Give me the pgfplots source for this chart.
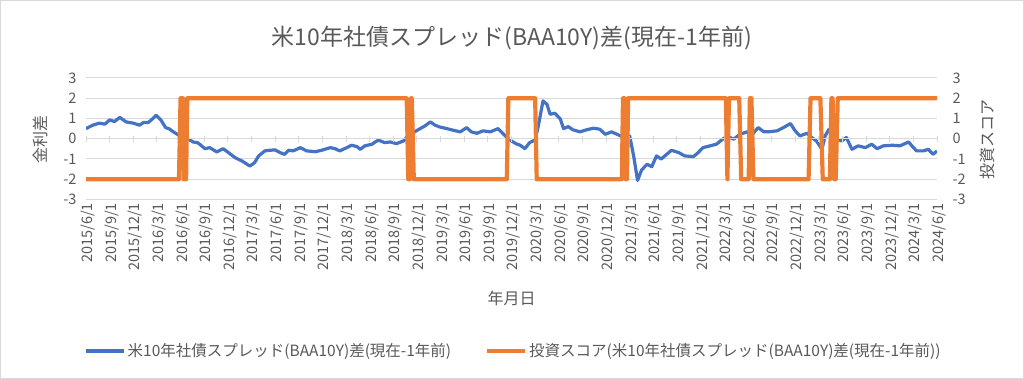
\documentclass[border=0pt]{standalone}
\usepackage{pgfplots}
\pgfplotsset{compat=1.18}
\usepackage{fontspec}
\setmainfont{Noto Sans CJK JP}
\definecolor{txt}{HTML}{595959}
\definecolor{grd}{HTML}{D9D9D9}
\definecolor{cblue}{HTML}{4472C4}
\definecolor{corange}{HTML}{ED7D31}
\begin{document}
\begin{tikzpicture}
\useasboundingbox (0pt,0pt) rectangle (1024pt,379pt);
\draw[color=grd] (0.5pt,0.5pt) rectangle (1023.5pt,378.5pt);
\node[text=txt, font=\fontsize{23}{27}\selectfont] at (512pt,341pt) {米10年社債スプレッド(BAA10Y)差(現在-1年前)};
\pgfplotsset{
  base/.style={
    at={(86pt,179.5pt)}, anchor=south west, scale only axis,
    width=851pt, height=121.5pt,
    xmin=0, xmax=108, ymin=-3, ymax=3,
    ytick={-3,-2,-1,0,1,2,3},
    /pgf/number format/assume math mode=true,
    tick label style={text=txt, font=\fontsize{14.5}{16}\selectfont},
    label style={text=txt, font=\fontsize{16}{18}\selectfont},
    major tick length=0pt,
  }
}
% left axis with blue series
\begin{axis}[base,
  axis y line*=left, axis x line*=bottom,
  axis line style={draw=none},
  ymajorgrids, grid style={grd, line width=1pt},
  xtick={0,3,...,108},
  xticklabels={2015/6/1,2015/9/1,2015/12/1,2016/3/1,2016/6/1,2016/9/1,2016/12/1,2017/3/1,2017/6/1,2017/9/1,2017/12/1,2018/3/1,2018/6/1,2018/9/1,2018/12/1,2019/3/1,2019/6/1,2019/9/1,2019/12/1,2020/3/1,2020/6/1,2020/9/1,2020/12/1,2021/3/1,2021/6/1,2021/9/1,2021/12/1,2022/3/1,2022/6/1,2022/9/1,2022/12/1,2023/3/1,2023/6/1,2023/9/1,2023/12/1,2024/3/1,2024/6/1},
  xticklabel style={rotate=90, anchor=east, yshift=-2pt},
  yticklabel style={xshift=-6pt},
  xlabel={年月日},
  xlabel style={at={(axis description cs:0.5,-0.81)}, anchor=center},
  ylabel={金利差},
  ylabel style={at={(axis description cs:-0.054,0.49)}, anchor=center},
]
\addplot[cblue, line width=3.2pt, line join=round] coordinates {
(0,0.50) (0.85,0.67) (1.7,0.77) (2.4,0.72) (3.0,0.93) (3.6,0.85) (4.3,1.05) (5.1,0.83) (6.0,0.77) (6.8,0.67) (7.3,0.80) (7.9,0.80) (8.4,0.97) (8.9,1.16) (9.5,0.93) (10.1,0.55) (10.5,0.50) (11.1,0.34) (11.7,0.19) (12.3,0.09) (13.0,-0.02) (13.6,-0.16) (14.2,-0.20) (15.1,-0.49) (15.7,-0.44) (16.6,-0.65) (17.4,-0.49) (18.2,-0.72) (18.9,-0.93) (19.8,-1.10) (20.8,-1.35) (21.4,-1.18) (21.9,-0.85) (22.7,-0.60) (23.3,-0.57) (24.0,-0.55) (24.6,-0.68) (25.2,-0.77) (25.7,-0.57) (26.3,-0.60) (27.2,-0.44) (28.0,-0.60) (29.1,-0.64) (29.9,-0.57) (31.0,-0.44) (31.6,-0.49) (32.2,-0.60) (33.1,-0.44) (33.7,-0.32) (34.4,-0.39) (34.8,-0.52) (35.4,-0.35) (36.3,-0.27) (36.7,-0.16) (37.1,-0.07) (37.9,-0.19) (38.6,-0.16) (39.4,-0.24) (40.3,-0.11) (40.9,0.17) (41.7,0.34) (42.4,0.50) (43.0,0.63) (43.7,0.83) (44.3,0.67) (44.9,0.58) (45.8,0.50) (46.6,0.42) (47.5,0.34) (48.3,0.55) (48.9,0.34) (49.6,0.27) (50.4,0.39) (51.3,0.34) (52.3,0.50) (53.2,0.14) (54.0,-0.11) (54.6,-0.25) (55.1,-0.32) (55.7,-0.49) (56.3,-0.19) (57.0,-0.06) (57.4,0.63) (58.0,1.87) (58.5,1.70) (58.9,1.21) (59.5,1.26) (60.2,0.97) (60.6,0.50) (61.2,0.60) (61.8,0.44) (62.7,0.34) (63.5,0.44) (64.4,0.52) (65.2,0.47) (65.9,0.22) (66.7,0.34) (67.4,0.22) (68.0,0.11) (69.0,0.14) (69.5,-0.85) (70.0,-2.06) (70.5,-1.55) (71.2,-1.26) (71.8,-1.38) (72.4,-0.85) (73.0,-1.00) (73.6,-0.80) (74.3,-0.57) (75.2,-0.68) (76.0,-0.85) (77.1,-0.88) (77.7,-0.68) (78.3,-0.44) (79.2,-0.35) (80.0,-0.27) (80.9,0.01) (81.5,0.10) (82.2,-0.02) (83.0,0.22) (83.9,0.34) (84.4,0.14) (85.3,0.55) (86.0,0.35) (86.8,0.35) (87.7,0.39) (88.5,0.55) (89.4,0.75) (90.0,0.39) (90.6,0.14) (91.5,0.27) (92.1,0.06) (92.7,-0.11) (93.4,-0.52) (93.8,0.14) (94.3,0.47) (95.0,0.06) (95.9,-0.11) (96.5,0.06) (97.2,-0.52) (98.0,-0.35) (98.9,-0.44) (99.7,-0.27) (100.4,-0.49) (101.2,-0.35) (102.3,-0.32) (103.3,-0.35) (104.4,-0.16) (104.8,-0.35) (105.4,-0.60) (106.3,-0.60) (106.9,-0.52) (107.5,-0.77) (108.0,-0.60)
};
\end{axis}
% zero axis line with tick marks
\begin{axis}[base,
  axis x line=middle, axis y line=none,
  x axis line style={-, draw=grd, line width=1pt},
  xtick={0,3,...,108}, xticklabels={},
  major tick length=6pt, tick align=center,
  tick style={grd, line width=1pt},
]
\end{axis}
% right axis with orange series
\begin{axis}[base,
  axis y line*=right, axis x line=none,
  axis line style={draw=none},
  yticklabel style={xshift=12pt},
  ylabel={投資スコア},
  ylabel style={at={(axis description cs:1.059,0.49)}, anchor=center},
  legend columns=2,
  legend style={at={(axis description cs:0.502,-1.247)}, anchor=center, draw=none, fill=none,
    text=txt, font=\fontsize{15.5}{17}\selectfont,
    /tikz/every even column/.append style={column sep=32pt}},
  legend image code/.code={\draw[#1, line width=4pt] (0pt,0pt) -- (38pt,0pt);},
]
\addlegendimage{cblue, line width=3.2pt}
\addlegendentry{米10年社債スプレッド(BAA10Y)差(現在-1年前)}
\addplot[corange, line width=4.2pt, line join=round] coordinates {
(0,-2) (11.8,-2) (12.0,2) (12.3,2) (12.4,-2) (12.7,-2) (12.85,2)
(40.7,2) (40.9,-2) (41.1,-2) (41.25,2) (41.35,2) (41.6,-2)
(53.4,-2) (53.6,2) (57.0,2) (57.2,-2)
(68.0,-2) (68.15,2) (68.35,2) (68.5,-2) (68.65,-2) (68.8,2)
(81.2,2) (81.4,-2) (81.6,2) (82.9,2) (83.15,-2) (84.1,-2) (84.25,2) (84.45,2) (84.7,-2)
(91.7,-2) (91.95,2) (93.2,2) (93.5,-2) (94.4,-2) (94.6,2) (94.75,2) (94.95,-2) (95.15,-2) (95.4,2) (108,2)
};
\addlegendentry{投資スコア(米10年社債スプレッド(BAA10Y)差(現在-1年前))}
\end{axis}
\end{tikzpicture}
\end{document}
